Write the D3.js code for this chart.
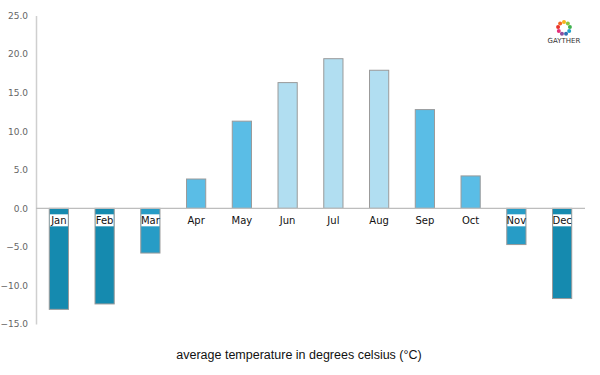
<!DOCTYPE html>
<html>
<head>
<meta charset="utf-8">
<script src="https://cdn.jsdelivr.net/npm/d3@7"></script>
<style>
  body { margin: 0; background: #fff; }
  svg { display: block; }
</style>
</head>
<body>
<div id="chart"></div>
<script>
const months = ["Jan", "Feb", "Mar", "Apr", "May", "Jun", "Jul", "Aug", "Sep", "Oct", "Nov", "Dec"];
const temps = [-13.1, -12.4, -5.8, 3.8, 11.3, 16.3, 19.4, 17.9, 12.8, 4.2, -4.7, -11.7];
const yTicks = [-15, -10, -5, 0, 5, 10, 15, 20, 25];
const title = "average temperature in degrees celsius (°C)";

const width = 600, height = 375;

const svg = d3.select("#chart")
  .append("svg")
  .attr("width", width)
  .attr("height", height);

// skala
const x = d3.scaleBand()
  .domain(months)
  .range([36, 585])
  .paddingInner(0.58)
  .paddingOuter(0.29);

const y = d3.scaleLinear()
  .domain([-15, 25])
  .range([324, 15.5]);

// warna per bulan, menurut suhu
function barColor(v) {
  if (v <= -10) return "#158aaf";
  if (v < 0) return "#279cc6";
  if (v < 15) return "#5abde6";
  return "#b1def1";
}

// sumbu Y
const yAxis = svg.append("g")
  .attr("transform", "translate(36,0)")
  .call(d3.axisLeft(y).tickValues(yTicks).tickSize(0).tickPadding(8).tickFormat(d3.format(".1f")));
yAxis.select(".domain").attr("stroke", "#cfcfcf").attr("stroke-width", 1.5);
yAxis.selectAll("text")
  .attr("fill", "#666")
  .style("font-family", "'DejaVu Sans', sans-serif")
  .style("font-size", "9px");

// batang
svg.selectAll(".bar")
  .data(temps)
  .enter()
  .append("rect")
  .attr("class", "bar")
  .attr("x", (d, i) => x(months[i]))
  .attr("width", x.bandwidth())
  .attr("y", d => y(Math.max(0, d)))
  .attr("height", d => Math.abs(y(d) - y(0)))
  .attr("fill", d => barColor(d))
  .attr("stroke", "#9a9a9a")
  .attr("stroke-width", 1);

// garis nol
svg.append("line")
  .attr("x1", 36)
  .attr("x2", 585)
  .attr("y1", y(0))
  .attr("y2", y(0))
  .attr("stroke", "#bdbdbd")
  .attr("stroke-width", 1.2);

// label bulan
const labels = svg.selectAll(".mlabel")
  .data(months)
  .enter()
  .append("g")
  .attr("class", "mlabel")
  .attr("transform", d => `translate(${x(d) + x.bandwidth() / 2},${y(0) + 12})`);

labels.filter((d, i) => temps[i] < 0)
  .append("rect")
  .attr("x", -9)
  .attr("y", -6)
  .attr("width", 18)
  .attr("height", 12)
  .attr("fill", "#fff");

labels.append("text")
  .attr("text-anchor", "middle")
  .attr("dy", "0.35em")
  .attr("fill", "#111")
  .style("font-family", "'DejaVu Sans', sans-serif")
  .style("font-size", "10px")
  .text(d => d);

// judul bawah
svg.append("text")
  .attr("x", 299)
  .attr("y", 359)
  .attr("text-anchor", "middle")
  .attr("fill", "#111")
  .style("font-family", "'Liberation Sans', Arial, sans-serif")
  .style("font-size", "12.5px")
  .text(title);

// logo
const logo = svg.append("g").attr("transform", "translate(564,28)");
const logoColors = ["#f7b21b", "#8cc63f", "#3fb34f", "#20a3c9", "#2d6fb6", "#8b4fa0", "#e5317a", "#e9332b", "#f26522"];
logo.selectAll("circle")
  .data(logoColors)
  .enter()
  .append("circle")
  .attr("cx", (d, i) => 6 * Math.sin(i / logoColors.length * 2 * Math.PI))
  .attr("cy", (d, i) => -6 * Math.cos(i / logoColors.length * 2 * Math.PI))
  .attr("r", 2)
  .attr("fill", d => d);
logo.append("text")
  .attr("y", 15)
  .attr("text-anchor", "middle")
  .attr("fill", "#333")
  .style("font-family", "'DejaVu Sans', sans-serif")
  .style("font-size", "7px")
  .text("GAYTHER");
</script>
</body>
</html>
